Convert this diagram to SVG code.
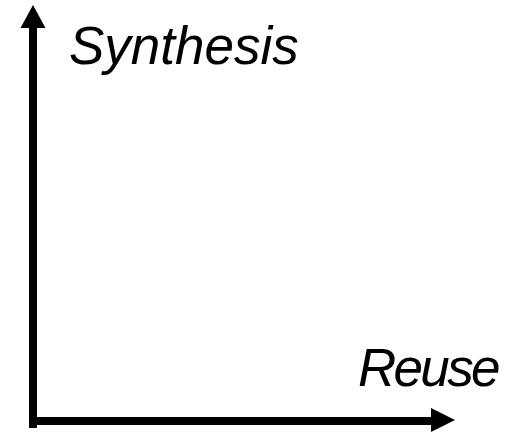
<svg xmlns="http://www.w3.org/2000/svg" width="520" height="433" viewBox="0 0 520 433">
  <style>
    .axis { stroke: #000; stroke-width: 8; fill: none; }
    .head { fill: #000; }
    .label { font-family: "Liberation Sans", Arial, sans-serif; font-style: italic; font-size: 53px; fill: #000; }
  </style>
  <rect width="520" height="433" fill="#fff"/>
  <g id="connectors">
    <!-- vertical axis -->
    <line class="axis" x1="33" y1="428" x2="33" y2="27"/>
    <polygon class="head" points="33,5 45.5,28 20.5,28"/>
    <!-- horizontal axis -->
    <line class="axis" x1="29" y1="421" x2="432" y2="421"/>
    <polygon class="head" points="455,420 431,408 431,432"/>
  </g>
  <g id="synthesis">
    <text class="label" x="69" y="64">Synthesis</text>
  </g>
  <g id="reuse">
    <text class="label" x="358" y="386" letter-spacing="-2.7">Reuse</text>
  </g>
</svg>
